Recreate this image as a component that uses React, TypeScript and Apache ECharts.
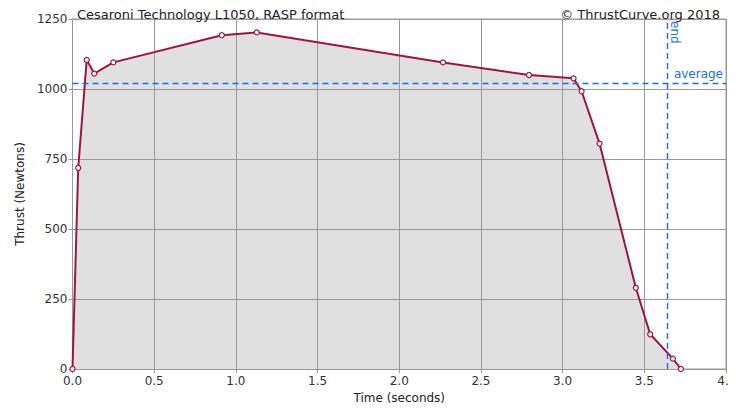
import React, { useEffect, useRef } from "react";
import * as echarts from "echarts";

const times = [0, 0.035, 0.087, 0.133, 0.25, 0.914, 1.128, 2.268, 2.794, 3.067, 3.116, 3.226, 3.448, 3.536, 3.675, 3.724];
const thrust = [0, 718, 1104, 1055, 1095, 1192, 1202, 1095, 1050, 1038, 992, 805, 290, 124, 37, 0];
const averageThrust = 1021;
const burnEnd = 3.64;
const titleText = "Cesaroni Technology L1050, RASP format";
const creditText = "© ThrustCurve.org 2018";

const FONT = "DejaVu Sans";
const BLUE = "#1a6fe0";

export default function App() {
  const ref = useRef<HTMLDivElement>(null);
  useEffect(() => {
    if (!ref.current) return;
    document.body.style.margin = "0";
    const chart = echarts.init(ref.current, undefined, { renderer: "svg" });
    const points = times.map((t, i) => [t, thrust[i]]);
    const dash = { color: BLUE, type: [6, 4], width: 1.4, opacity: 1 };
    chart.setOption({
      animation: false,
      textStyle: { fontFamily: FONT },
      title: [
        { text: titleText, left: 72, top: 3, textStyle: { fontSize: 13, fontWeight: "normal", color: "#222", fontFamily: FONT } },
        { text: creditText, right: 22, top: 3, textStyle: { fontSize: 13, fontWeight: "normal", color: "#222", fontFamily: FONT } },
      ],
      grid: { left: 72.5, right: 21, top: 19, bottom: 43, show: true, borderColor: "#999", borderWidth: 1, backgroundColor: "transparent" },
      xAxis: {
        type: "value", min: 0, max: 4, interval: 0.5, z: 2,
        name: "Time (seconds)", nameLocation: "middle", nameGap: 23,
        nameTextStyle: { fontSize: 12, color: "#222", fontFamily: FONT },
        axisLine: { lineStyle: { color: "#999" } },
        axisTick: { show: true, length: 4, lineStyle: { color: "#999" } },
        axisLabel: {
          fontSize: 12, color: "#333", margin: 6, fontFamily: FONT,
          formatter: (v: number) => (v === 4 ? "{e|4.}" : v.toFixed(1)),
          rich: { e: { fontSize: 12, color: "#333", fontFamily: FONT, padding: [0, 6, 0, 0] } },
        },
        splitLine: { show: true, lineStyle: { color: "#999", width: 1 } },
      },
      yAxis: {
        type: "value", min: 0, max: 1250, interval: 250, z: 2,
        name: "Thrust (Newtons)", nameLocation: "middle", nameGap: 47,
        nameTextStyle: { fontSize: 12, color: "#222", fontFamily: FONT },
        axisLine: { show: true, lineStyle: { color: "#999" } },
        axisTick: { show: true, length: 4, lineStyle: { color: "#999" } },
        axisLabel: { fontSize: 12, color: "#333", margin: 5, fontFamily: FONT, formatter: (v: number) => String(v) },
        splitLine: { show: true, lineStyle: { color: "#999", width: 1 } },
      },
      series: [
        {
          type: "line", data: points, z: 1, symbol: "none", silent: true,
          lineStyle: { width: 0, opacity: 0 },
          areaStyle: { color: "#e0e0e0", opacity: 1 },
        },
        {
          type: "line", data: points, z: 3,
          symbol: "circle", symbolSize: 5,
          itemStyle: { color: "#ffffff", borderColor: "#a01445", borderWidth: 1.2 },
          lineStyle: { color: "#a01445", width: 2 },
          markLine: {
            silent: true, symbol: "none",
            lineStyle: dash,
            data: [
              { yAxis: averageThrust, lineStyle: dash, label: { show: true, position: "insideEndTop", formatter: "average", color: BLUE, fontSize: 12, fontFamily: FONT, distance: 3 } },
              { xAxis: burnEnd, lineStyle: dash, label: { show: false } },
            ],
          },
        },
      ],
    });
    const p = chart.convertToPixel({ gridIndex: 0 }, [burnEnd, 1250]) as number[];
    chart.setOption({
      graphic: [
        {
          type: "text", x: p[0] + 2, y: p[1] + 2, rotation: -Math.PI / 2,
          style: { text: "end", fill: BLUE, fontSize: 12, fontFamily: FONT, textAlign: "left", textVerticalAlign: "bottom" },
        },
      ],
    });
    return () => chart.dispose();
  }, []);
  return <div ref={ref} style={{ width: 747, height: 412 }} />;
}
